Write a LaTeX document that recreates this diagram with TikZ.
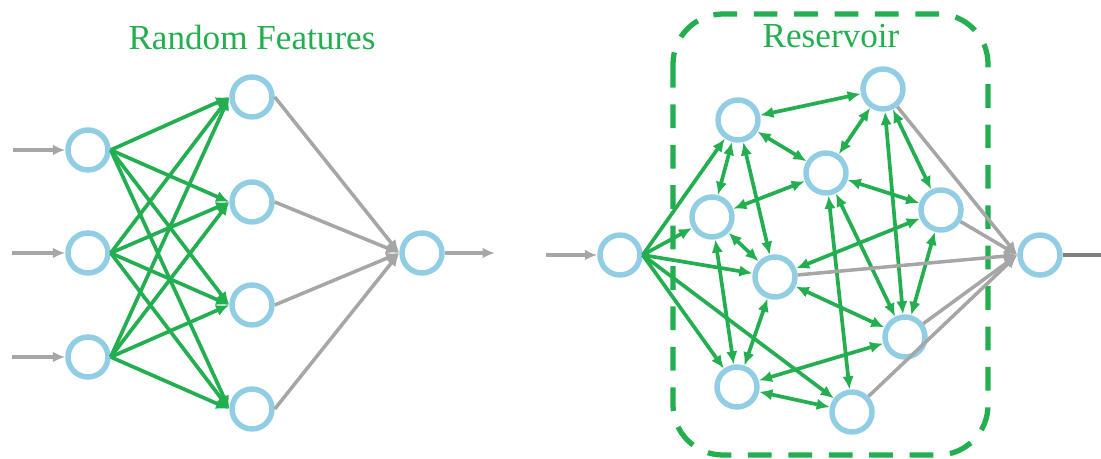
\documentclass[tikz,border=0pt]{standalone}
\usepackage{fontspec}
\setmainfont{Liberation Serif}
\usepackage{xcolor}
\usetikzlibrary{arrows.meta}

\definecolor{rfgreen}{RGB}{35,174,80}
\definecolor{cellblue}{RGB}{146,206,227}
\definecolor{wiregray}{RGB}{166,166,166}
\definecolor{darkwire}{RGB}{128,128,128}

\begin{document}
\begin{tikzpicture}[
    x=0.02cm, y=-0.02cm,
    neuron/.style={
      circle, draw=cellblue, fill=white,
      line width=3.1pt,
      minimum size=0.8cm, inner sep=0pt
    },
    link/.style={-{Latex[length=7.5pt,width=6.5pt]}, rfgreen, line width=2.1pt},
    twoway/.style={{Latex[length=7.5pt,width=6.5pt]}-{Latex[length=7.5pt,width=6.5pt]}, rfgreen, line width=2.1pt},
    readout/.style={-{Latex[length=7.5pt,width=6.5pt]}, wiregray, line width=2pt},
    feed/.style={-{Latex[length=7pt,width=6pt]}, wiregray, line width=2pt},
    title/.style={text=rfgreen, font=\fontsize{20}{24}\selectfont, anchor=base, inner sep=0pt},
    resbox/.style={rfgreen, line width=3pt, dash pattern=on 13.5pt off 9.5pt, rounded corners=1cm}
]
\useasboundingbox (0,0) rectangle (1101,459);

% --- Random features network ---
\node[title] (rftitle) at (252,50) {Random Features};

\node[neuron] (in1) at (88,150) {};
\node[neuron] (in2) at (88,253) {};
\node[neuron] (in3) at (88,357) {};

\node[neuron] (hid1) at (252,97) {};
\node[neuron] (hid2) at (252,202) {};
\node[neuron] (hid3) at (252,305) {};
\node[neuron] (hid4) at (252,409) {};

\node[neuron] (out) at (422,253) {};

\coordinate (src1) at (13,150);
\coordinate (src2) at (12,253);
\coordinate (src3) at (12,357);
\coordinate (sink) at (495,253);

\draw[feed] (src1) -- (in1);
\draw[feed] (src2) -- (in2);
\draw[feed] (src3) -- (in3);

\draw[link] (in1.east) -- (hid1.west);
\draw[link] (in1.east) -- (hid2.west);
\draw[link] (in1.east) -- (hid3.west);
\draw[link] (in1.east) -- (hid4.west);
\draw[link] (in2.east) -- (hid1.west);
\draw[link] (in2.east) -- (hid2.west);
\draw[link] (in2.east) -- (hid3.west);
\draw[link] (in2.east) -- (hid4.west);
\draw[link] (in3.east) -- (hid1.west);
\draw[link] (in3.east) -- (hid2.west);
\draw[link] (in3.east) -- (hid3.west);
\draw[link] (in3.east) -- (hid4.west);

\draw[readout] (hid1.east) -- (out.west);
\draw[readout] (hid2.east) -- (out.west);
\draw[readout] (hid3.east) -- (out.west);
\draw[readout] (hid4.east) -- (out.west);

\draw[feed] (out) -- (sink);

% --- Reservoir network ---
\draw[resbox] (673,14) rectangle (988,455);
\node[title] (restitle) at (831,48) {Reservoir};

\node[neuron] (rin) at (620,255) {};
\coordinate (rsrc) at (546,255);

\node[neuron] (res1) at (738,120) {};
\node[neuron] (res2) at (883,89) {};
\node[neuron] (res3) at (826,173) {};
\node[neuron] (res4) at (712,217) {};
\node[neuron] (res5) at (941,210) {};
\node[neuron] (res6) at (775,277) {};
\node[neuron] (res7) at (905,337) {};
\node[neuron] (res8) at (737,387) {};
\node[neuron] (res9) at (852,412) {};

\node[neuron] (rout) at (1040,255) {};
\coordinate (rsink) at (1101,255);

\draw[feed] (rsrc) -- (rin);

\draw[link] (rin.east) -- (res1);
\draw[link] (rin.east) -- (res4);
\draw[link] (rin.east) -- (res6);
\draw[link] (rin.east) -- (res8);
\draw[link] (rin.east) -- (res9);

\draw[twoway] (res1) -- (res2);
\draw[twoway] (res1) -- (res3);
\draw[twoway] (res1) -- (res4);
\draw[twoway] (res1) -- (res6);
\draw[twoway] (res2) -- (res3);
\draw[twoway] (res2) -- (res5);
\draw[twoway] (res2) -- (res7);
\draw[twoway] (res3) -- (res4);
\draw[twoway] (res3) -- (res5);
\draw[twoway] (res3) -- (res7);
\draw[twoway] (res3) -- (res9);
\draw[twoway] (res4) -- (res6);
\draw[twoway] (res4) -- (res8);
\draw[twoway] (res5) -- (res6);
\draw[twoway] (res5) -- (res7);
\draw[twoway] (res6) -- (res7);
\draw[twoway] (res6) -- (res8);
\draw[twoway] (res7) -- (res8);
\draw[twoway] (res8) -- (res9);

\draw[readout] (res2) -- (rout.west);
\draw[readout] (res5) -- (rout.west);
\draw[readout] (res6) -- (rout.west);
\draw[readout] (res7) -- (rout.west);
\draw[readout] (res9) -- (rout.west);

\draw[darkwire, line width=2pt] (rout) -- (rsink);

\end{tikzpicture}
\end{document}
